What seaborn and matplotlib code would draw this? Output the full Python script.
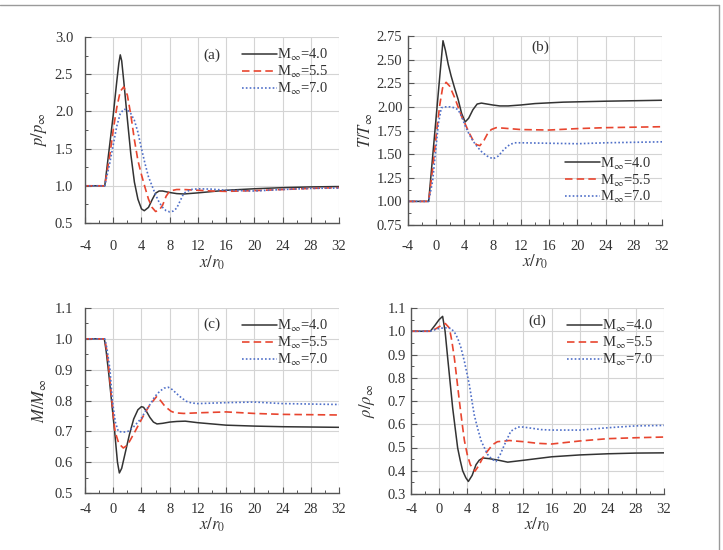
import numpy as np
import pandas as pd
import matplotlib
matplotlib.use("Agg")
import matplotlib.pyplot as plt
import seaborn as sns
from matplotlib.lines import Line2D
from matplotlib.ticker import MultipleLocator, FormatStrFormatter

# ---------------- data ----------------
labels = ["M$_\\infty$=4.0", "M$_\\infty$=5.5", "M$_\\infty$=7.0"]

# (a) p/p_inf
a_x4 = [-4, -1.2, -0.5, 0, 0.5, 0.8, 1.0, 1.2, 1.5, 2.0, 2.5, 3.0, 3.5, 4.0, 4.4, 5.0, 5.5, 6.0, 6.5, 7.0, 8, 9, 10, 12, 16, 20, 24, 28, 32]
a_y4 = [1.0, 1.0, 1.55, 1.95, 2.4, 2.65, 2.76, 2.68, 2.4, 1.9, 1.42, 1.05, 0.82, 0.69, 0.665, 0.71, 0.81, 0.9, 0.93, 0.93, 0.91, 0.895, 0.89, 0.905, 0.94, 0.96, 0.975, 0.985, 0.99]
a_x55 = [-4, -1.2, -0.5, 0, 0.5, 1.0, 1.5, 2.0, 2.5, 3.0, 3.5, 4.0, 4.5, 5.0, 5.5, 6.0, 6.5, 7.0, 7.5, 8.0, 9, 10, 12, 14, 16, 18, 20, 24, 28, 32]
a_y55 = [1.0, 1.0, 1.4, 1.75, 2.05, 2.27, 2.33, 2.22, 1.95, 1.62, 1.34, 1.15, 0.98, 0.82, 0.71, 0.655, 0.67, 0.74, 0.86, 0.93, 0.95, 0.95, 0.94, 0.93, 0.925, 0.93, 0.935, 0.95, 0.965, 0.975]
a_x7 = [-4, -1.2, -0.5, 0, 0.5, 1.0, 1.5, 2.0, 2.5, 3.0, 3.5, 4.0, 4.5, 5.0, 5.5, 6.0, 6.5, 7.0, 7.5, 8.0, 8.5, 9.0, 9.5, 10.0, 11, 12, 14, 16, 20, 24, 28, 32]
a_y7 = [1.0, 1.0, 1.3, 1.55, 1.8, 1.97, 2.03, 2.02, 1.97, 1.88, 1.72, 1.5, 1.3, 1.12, 1.0, 0.88, 0.78, 0.71, 0.665, 0.65, 0.66, 0.7, 0.8, 0.9, 0.95, 0.96, 0.955, 0.94, 0.93, 0.95, 0.965, 0.97]

# (b) T/T_inf
b_x4 = [-4, -1.07, -0.5, 0, 0.5, 0.96, 1.3, 1.7, 2.1, 2.6, 3.1, 3.6, 4.1, 4.6, 5.2, 5.8, 6.4, 7.2, 8, 9, 10.2, 12, 14, 18, 24, 32]
b_y4 = [1.0, 1.0, 1.48, 1.9, 2.32, 2.70, 2.6, 2.45, 2.33, 2.2, 2.08, 1.93, 1.84, 1.88, 1.97, 2.03, 2.04, 2.03, 2.02, 2.01, 2.01, 2.02, 2.035, 2.05, 2.06, 2.07]
b_x55 = [-4, -1.07, -0.5, 0, 0.5, 0.9, 1.4, 1.9, 2.6, 3.2, 3.7, 4.1, 4.7, 5.2, 5.7, 6.2, 6.8, 7.3, 7.8, 8.5, 9.5, 12, 16, 20, 24, 32]
b_y55 = [1.0, 1.0, 1.35, 1.7, 2.02, 2.2, 2.26, 2.22, 2.1, 1.98, 1.88, 1.82, 1.72, 1.65, 1.6, 1.59, 1.65, 1.72, 1.76, 1.78, 1.775, 1.76, 1.755, 1.77, 1.78, 1.79]
b_x7 = [-4, -1.07, -0.5, -0.13, 0.3, 0.72, 1.2, 2.0, 2.6, 3.1, 3.6, 4.1, 4.6, 5.2, 5.9, 6.5, 7.2, 8.05, 8.8, 9.6, 10.4, 11.1, 12, 16, 20, 24, 32]
b_y7 = [1.0, 1.0, 1.22, 1.5, 1.82, 1.99, 2.0, 2.0, 1.99, 1.97, 1.9, 1.8, 1.72, 1.64, 1.57, 1.52, 1.48, 1.45, 1.48, 1.55, 1.6, 1.62, 1.62, 1.615, 1.61, 1.62, 1.63]

# (c) M/M_inf
c_x4 = [-4, -1.26, -1.0, -0.6, -0.2, 0.2, 0.6, 0.87, 1.2, 1.7, 2.3, 2.9, 3.5, 4.0, 4.3, 4.7, 5.2, 5.7, 6.2, 7, 8, 9, 10.2, 12, 16, 20, 24, 32]
c_y4 = [1.0, 1.0, 0.96, 0.88, 0.79, 0.7, 0.6, 0.565, 0.58, 0.63, 0.69, 0.74, 0.77, 0.78, 0.778, 0.765, 0.745, 0.73, 0.724, 0.726, 0.73, 0.732, 0.733, 0.728, 0.72, 0.717, 0.715, 0.713]
c_x55 = [-4, -1.2, -0.9, -0.6, -0.2, 0.25, 0.8, 1.43, 2.0, 2.5, 3.1, 3.8, 4.5, 5.2, 5.7, 6.16, 6.7, 7.2, 7.6, 8.2, 8.75, 10, 12, 16, 20, 24, 32]
c_y55 = [1.0, 1.0, 0.96, 0.9, 0.8, 0.7, 0.66, 0.646, 0.655, 0.675, 0.7, 0.73, 0.76, 0.786, 0.8, 0.813, 0.8, 0.785, 0.776, 0.765, 0.76, 0.758, 0.76, 0.763, 0.758, 0.755, 0.753]
c_x7 = [-4, -1.2, -0.9, -0.46, -0.13, 0.3, 0.72, 1.4, 2.1, 2.7, 3.3, 4.0, 4.7, 5.3, 5.9, 6.6, 7.2, 7.8, 8.4, 9.0, 9.7, 10.4, 11.1, 12, 16, 20, 24, 32]
c_y7 = [1.0, 1.0, 0.97, 0.9, 0.8, 0.73, 0.7, 0.697, 0.7, 0.71, 0.725, 0.743, 0.77, 0.79, 0.813, 0.83, 0.84, 0.843, 0.835, 0.822, 0.808, 0.797, 0.792, 0.79, 0.793, 0.795, 0.79, 0.787]

# (d) rho/rho_inf
d_x4 = [-4, -1.25, -0.6, 0, 0.5, 0.85, 1.22, 1.6, 1.93, 2.3, 2.64, 3.0, 3.35, 3.8, 4.16, 4.7, 5.25, 5.7, 6.2, 7.15, 8.5, 9.76, 12, 16, 20, 24, 28, 32]
d_y4 = [1.0, 1.0, 1.025, 1.05, 1.064, 1.0, 0.885, 0.77, 0.67, 0.58, 0.498, 0.445, 0.40, 0.37, 0.354, 0.38, 0.426, 0.445, 0.455, 0.452, 0.445, 0.437, 0.445, 0.46, 0.468, 0.473, 0.476, 0.477]
d_x55 = [-4, -1.25, -0.5, 0.3, 0.89, 1.46, 1.8, 2.17, 2.5, 2.88, 3.25, 3.6, 4.0, 4.44, 5.1, 5.6, 6.2, 6.9, 7.6, 8.3, 9.05, 10, 12, 14, 16, 20, 24, 28, 32]
d_y55 = [1.0, 1.0, 1.01, 1.025, 1.033, 1.014, 0.96, 0.885, 0.8, 0.70, 0.61, 0.53, 0.47, 0.426, 0.398, 0.42, 0.455, 0.485, 0.512, 0.525, 0.527, 0.53, 0.525, 0.518, 0.515, 0.528, 0.538, 0.542, 0.545]
d_x7 = [-4, -1.25, -0.5, 0, 0.8, 1.7, 2.2, 2.64, 3.1, 3.6, 4.3, 5.0, 5.5, 6.0, 6.9, 7.5, 8.1, 8.7, 9.3, 10.2, 11.2, 12, 14.5, 16, 20, 24, 28, 32]
d_y7 = [1.0, 1.0, 1.008, 1.012, 1.015, 1.012, 0.995, 0.97, 0.93, 0.87, 0.77, 0.64, 0.58, 0.527, 0.47, 0.45, 0.44, 0.47, 0.512, 0.57, 0.588, 0.588, 0.577, 0.575, 0.575, 0.585, 0.593, 0.595]

x_ticks = [-4, 0, 4, 8, 12, 16, 20, 24, 28, 32]
panel_tags = ["(a)", "(b)", "(c)", "(d)"]
y_labels = ["$p/p_\\infty$", "$T/T_\\infty$", "$M/M_\\infty$", "$\\rho/\\rho_\\infty$"]
x_label = "$x/r_0$"

# ---------------- style ----------------
sns.set_theme(style="white")
plt.rcParams["font.family"] = ["Liberation Serif", "DejaVu Serif"]
plt.rcParams["mathtext.fontset"] = "stix"
plt.rcParams["axes.unicode_minus"] = False

W, H = 723, 550
fig = plt.figure(figsize=(W / 100, H / 100), dpi=100)
fig.patch.set_facecolor("white")

def rect(l, r, t, b):
    return [l / W, 1 - b / H, (r - l) / W, (b - t) / H]

panels = [
    dict(pos=rect(85, 339, 37, 223), data=[(a_x4, a_y4), (a_x55, a_y55), (a_x7, a_y7)],
         ylim=(0.5, 3.0), ystep=0.5, fmt="%.1f", tag=(0.50, 0.90), leg="upper right",
         lanchor=(1.0, 1.0), xpad=12.5, ypad=8.5, ylx=-0.14),
    dict(pos=rect(408, 662, 36, 225), data=[(b_x4, b_y4), (b_x55, b_y55), (b_x7, b_y7)],
         ylim=(0.75, 2.75), ystep=0.25, fmt="%.2f", tag=(0.52, 0.94), leg="lower right",
         lanchor=(1.0, 0.05), xpad=10.5, ypad=4, ylx=-0.13),
    dict(pos=rect(85, 339, 308, 493), data=[(c_x4, c_y4), (c_x55, c_y55), (c_x7, c_y7)],
         ylim=(0.5, 1.1), ystep=0.1, fmt="%.1f", tag=(0.50, 0.91), leg="upper right",
         lanchor=(1.0, 1.0), xpad=7, ypad=8.5, ylx=-0.14),
    dict(pos=rect(411, 664, 308, 494), data=[(d_x4, d_y4), (d_x55, d_y55), (d_x7, d_y7)],
         ylim=(0.3, 1.1), ystep=0.1, fmt="%.1f", tag=(0.50, 0.93), leg="upper right",
         lanchor=(1.0, 1.0), xpad=6.5, ypad=3.5, ylx=-0.135),
]

colors = ["#333333", "#e8452f", "#4f6fc8"]
styles = [dict(linestyle="-", linewidth=1.1),
          dict(linestyle=(0, (4.5, 2.5)), linewidth=1.2),
          dict(linestyle=(0, (1, 1.3)), linewidth=1.2)]

for i, p in enumerate(panels):
    ax = fig.add_axes(p["pos"])
    for k, (xs, ys) in enumerate(p["data"]):
        df = pd.DataFrame({"x": xs, "y": ys})
        sns.lineplot(data=df, x="x", y="y", ax=ax, color=colors[k], sort=False,
                     estimator=None, label=labels[k], **styles[k])
    ax.set_xlim(-4, 32)
    ax.set_ylim(*p["ylim"])
    ax.set_xticks(x_ticks)
    ax.set_yticks(np.arange(p["ylim"][0], p["ylim"][1] + 1e-9, p["ystep"]))
    ax.yaxis.set_major_formatter(FormatStrFormatter(p["fmt"]))
    ax.xaxis.set_minor_locator(MultipleLocator(2))
    ax.yaxis.set_minor_locator(MultipleLocator(p["ystep"] / 2))
    ax.grid(True, which="major", color="#d4d4d4", linewidth=0.8)
    ax.set_axisbelow(True)
    for s in ["top", "right"]:
        ax.spines[s].set_visible(False)
    for s in ["left", "bottom"]:
        ax.spines[s].set_color("#555555")
        ax.spines[s].set_linewidth(1.0)
    ax.tick_params(which="major", direction="in", length=4, width=0.8, color="#555555",
                   labelsize=10.5, labelcolor="#333333", bottom=True, left=True)
    ax.tick_params(axis="x", which="major", pad=p["xpad"])
    ax.tick_params(axis="y", which="major", pad=p["ypad"])
    ax.tick_params(which="minor", direction="in", length=2, width=0.7, color="#555555",
                   bottom=True, left=True)
    ax.set_xlabel(x_label, fontsize=12, color="#333333", labelpad=0)
    ax.set_ylabel(y_labels[i], fontsize=12, color="#333333")
    ax.yaxis.set_label_coords(p["ylx"], 0.5)
    ax.text(p["tag"][0], p["tag"][1], panel_tags[i], transform=ax.transAxes,
            fontsize=11, color="#333333", ha="center", va="center")
    leg = ax.legend(loc=p["leg"], bbox_to_anchor=p["lanchor"], frameon=False, fontsize=10.5,
                    handlelength=2.4, handletextpad=0.0, labelspacing=0.05, borderaxespad=0.3)
    for t in leg.get_texts():
        t.set_color("#333333")

# outer frame (top and right edges visible)
fig.add_artist(Line2D([0, 719 / W], [1 - 5 / H, 1 - 5 / H], transform=fig.transFigure,
                      color="#9a9a9a", linewidth=1.0))
fig.add_artist(Line2D([719 / W, 719 / W], [0, 1 - 5 / H], transform=fig.transFigure,
                      color="#9a9a9a", linewidth=1.0))

fig.savefig("out.png", dpi=100, facecolor="white")
